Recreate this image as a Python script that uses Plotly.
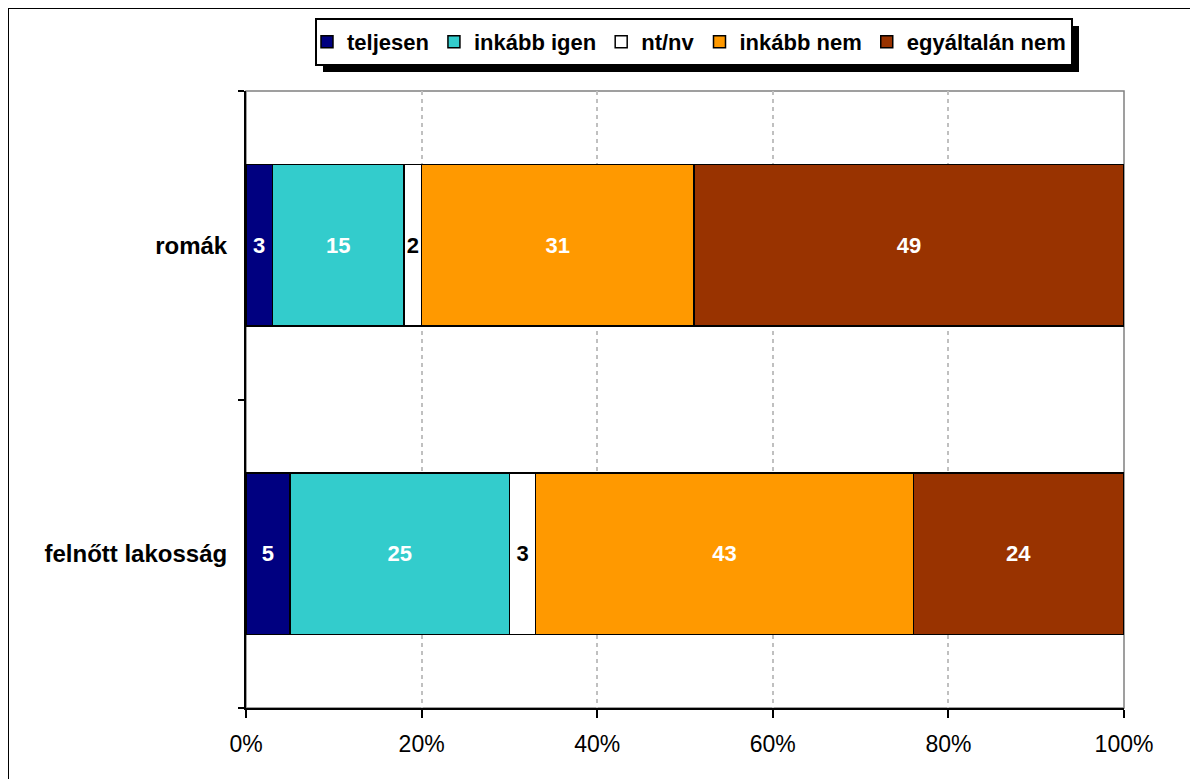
import plotly.graph_objects as go

categories = ["felnőtt lakosság", "romák"]
series_names = ["teljesen", "inkább igen", "nt/nv", "inkább nem", "egyáltalán nem"]
teljesen = [5, 3]
inkabb_igen = [25, 15]
nt_nv = [3, 2]
inkabb_nem = [43, 31]
egyaltalan_nem = [24, 49]
x_ticks = [0, 20, 40, 60, 80, 100]
x_tick_labels = ["0%", "20%", "40%", "60%", "80%", "100%"]

values = [teljesen, inkabb_igen, nt_nv, inkabb_nem, egyaltalan_nem]
colors = ["#000080", "#33CCCC", "#FFFFFF", "#FF9900", "#993300"]
text_colors = ["white", "white", "black", "white", "white"]

FONT = "Liberation Sans, Arial, sans-serif"

fig = go.Figure()
for name, vals, col, tcol in zip(series_names, values, colors, text_colors):
    fig.add_trace(go.Bar(
        y=categories, x=vals, name=name, orientation="h",
        marker=dict(color=col, line=dict(color="black", width=1.5)),
        text=vals, texttemplate="%{x}", textposition="inside",
        insidetextanchor="middle", constraintext="none", textangle=0,
        textfont=dict(family=FONT, size=22, color=tcol, weight="bold"),
        width=0.525, hoverinfo="skip",
    ))

W, H = 1198, 779
OFF = 8  # page offset of the figure
L, R, T, B = 246 - OFF, 1124 - OFF, 91 - OFF, 708 - OFF
pw, ph = R - L, B - T

def px(xp):
    return (xp - OFF - L) / pw

def py(yp):
    return (B - (yp - OFF)) / ph

shapes = [
    # outer frame (figure edge)
    dict(type="rect", xref="paper", yref="paper",
         x0=px(OFF - 0.5), x1=px(OFF + W + 10), y0=py(OFF + H + 10), y1=py(OFF - 0.5),
         line=dict(color="black", width=3), fillcolor="rgba(0,0,0,0)", layer="below"),
    # plot area border
    dict(type="rect", xref="paper", yref="paper", x0=0, x1=1, y0=0, y1=1,
         line=dict(color="#808080", width=1.5), fillcolor="rgba(0,0,0,0)", layer="below"),
    # legend shadow
    dict(type="rect", xref="paper", yref="paper",
         x0=px(323), x1=px(1079), y0=py(72), y1=py(26),
         line=dict(width=0), fillcolor="black", layer="below"),
    # legend box
    dict(type="rect", xref="paper", yref="paper",
         x0=px(316), x1=px(1072), y0=py(65), y1=py(19),
         line=dict(color="black", width=2), fillcolor="white", layer="below"),
]

fig.update_layout(
    width=W, height=H,
    margin=dict(l=L, r=W - R, t=T, b=H - B),
    barmode="stack",
    plot_bgcolor="white", paper_bgcolor="white",
    font=dict(family=FONT, color="black"),
    showlegend=True,
    legend=dict(
        orientation="h", x=px(689), y=py(42), xanchor="center", yanchor="middle",
        font=dict(family=FONT, size=22, color="black", weight="bold"),
        bgcolor="rgba(0,0,0,0)", borderwidth=0, itemwidth=30,
        traceorder="normal",
    ),
    shapes=shapes,
    xaxis=dict(
        range=[0, 100], tickvals=x_ticks, ticktext=x_tick_labels,
        showgrid=True, gridcolor="#C0C0C0", griddash="4px,4px", gridwidth=2,
        ticks="outside", ticklen=8, tickwidth=2, tickcolor="black",
        showline=True, linecolor="black", linewidth=2,
        tickfont=dict(family=FONT, size=23, color="black"),
        ticklabelstandoff=6, zeroline=False, fixedrange=True,
    ),
    yaxis=dict(
        type="category", categoryorder="array", categoryarray=categories,
        range=[-0.5, 1.5], tickson="boundaries",
        ticks="outside", ticklen=6, tickwidth=2, tickcolor="black",
        showline=True, linecolor="black", linewidth=2, showgrid=False,
        tickfont=dict(family=FONT, size=24, color="black", weight="bold"),
        ticklabelstandoff=12, fixedrange=True,
    ),
)

fig.write_html("out.html")
